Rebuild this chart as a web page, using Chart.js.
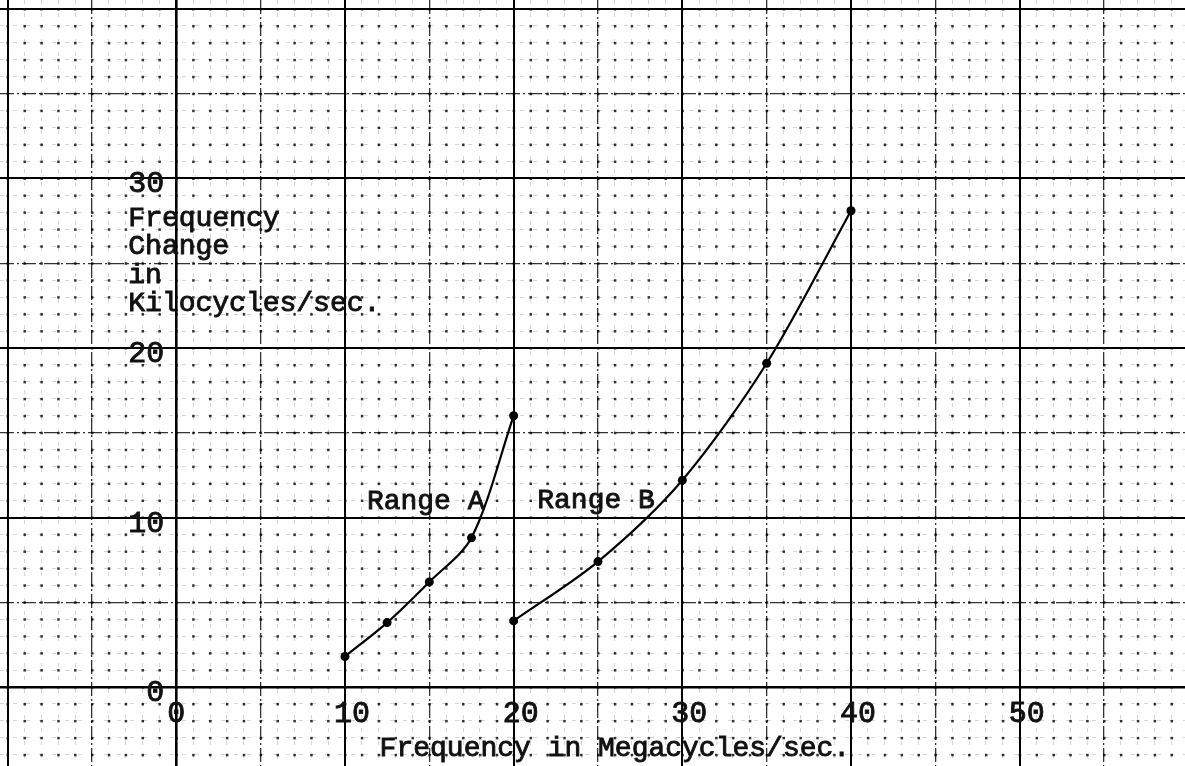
<!DOCTYPE html>
<html>
<head>
<meta charset="utf-8">
<title>Frequency change</title>
<script src="https://cdn.jsdelivr.net/npm/chart.js@4.4.1/dist/chart.umd.min.js"></script>
<style>
  html, body { margin:0; padding:0; background:#fff; }
  #wrap { width:1185px; height:766px; }
</style>
</head>
<body>
<div id="wrap"><canvas id="freqChart" width="1185" height="766"></canvas></div>
<script>
// readings, MHz vs kc/s
const rangeAFreq   = [10, 12.5, 15, 17.5, 20];
const rangeAChange = [1.8, 3.8, 6.2, 8.8, 16.0];
const rangeBFreq   = [20, 25, 30, 35, 40];
const rangeBChange = [3.9, 7.4, 12.2, 19.1, 28.1];

const seriesNames = ['Range A', 'Range B'];
const xTickLabels = [0, 10, 20, 30, 40, 50];
const yTickLabels = [0, 10, 20, 30];
const xTitle = 'Frequency in Megacycles/sec.';
const yTitle = ['Frequency', 'Change', 'in', 'Kilocycles/sec.'];

const TYPE_FONT = '"Liberation Mono", "Courier New", monospace';

(function(){
  const el = document.getElementById('freqChart');
  if(!el || !window.Chart) return;

  // one tick per unit so every paper line gets drawn
  function unitTicks(scale){
    const ticks = [];
    for(let v = Math.ceil(scale.min); v <= Math.floor(scale.max); v++) ticks.push({ value: v });
    scale.ticks = ticks;
  }
  function gridColor(c){
    const v = c.tick ? c.tick.value : 1;
    if(v % 10 === 0) return '#000';
    if(v % 5 === 0) return 'rgba(0,0,0,0.8)';
    return 'rgba(0,0,0,0.16)';
  }
  function gridWidth(c){
    const v = c.tick ? c.tick.value : 1;
    if(v === 0) return 2.6;
    if(v % 10 === 0) return 2;
    if(v % 5 === 0) return 1.3;
    return 1;
  }
  function gridDash(c){
    const v = c.tick ? c.tick.value : 1;
    if(v % 10 === 0) return [];
    if(v % 5 === 0) return [14, 3, 2, 3];
    return [4, 9];
  }

  const paperAxis = (min, max) => ({
    type: 'linear',
    min, max,
    afterBuildTicks: unitTicks,
    ticks: { display: false },
    grid: { color: gridColor, lineWidth: gridWidth, drawTicks: false },
    border: { display: false, dash: gridDash }
  });

  // dots at every unit crossing of the graph paper
  const paperDots = {
    id: 'paperDots',
    beforeDatasetsDraw(c){
      const {ctx, scales: {x, y}} = c;
      ctx.save();
      ctx.fillStyle = 'rgba(0,0,0,0.8)';
      x.ticks.forEach(tx => {
        const px = x.getPixelForValue(tx.value);
        y.ticks.forEach(ty => {
          const py = y.getPixelForValue(ty.value);
          ctx.fillRect(px - 1, py - 1, 2.5, 2.5);
        });
      });
      ctx.restore();
    }
  };

  // typewriter look: fill plus a thin stroke to thicken the strokes a bit
  function typeText(ctx, str, px, py){
    ctx.fillText(str, px, py);
    ctx.strokeText(str, px, py);
  }

  // typed labels: axis numbers, titles and the range names
  const paperText = {
    id: 'paperText',
    afterDatasetsDraw(c){
      const {ctx, scales: {x, y}} = c;
      const x0 = x.getPixelForValue(0);
      const y0 = y.getPixelForValue(0);
      ctx.save();
      ctx.fillStyle = '#111';
      ctx.strokeStyle = '#111';
      ctx.lineWidth = 0.9;
      ctx.textBaseline = 'alphabetic';

      ctx.font = '30px ' + TYPE_FONT;
      ctx.textAlign = 'center';
      xTickLabels.forEach(v => {
        typeText(ctx, String(v), x.getPixelForValue(v) + (v === 0 ? 0 : 7), y0 + 35);
      });
      ctx.textAlign = 'right';
      yTickLabels.forEach(v => {
        typeText(ctx, String(v), x0 - 12, y.getPixelForValue(v) + 14);
      });

      ctx.font = '28px ' + TYPE_FONT;
      ctx.textAlign = 'center';
      typeText(ctx, xTitle, x.getPixelForValue(26), y0 + 69);

      ctx.textAlign = 'left';
      const top = y.getPixelForValue(30);
      [48, 76, 105, 133].forEach((dy, i) => typeText(ctx, yTitle[i], x0 - 48, top + dy));

      typeText(ctx, seriesNames[0], x.getPixelForValue(11.3), y.getPixelForValue(10.5));
      typeText(ctx, seriesNames[1], x.getPixelForValue(21.4), y.getPixelForValue(10.55));
      ctx.restore();
    }
  };

  const curve = (name, xs, ys) => ({
    label: name,
    data: xs.map((f, i) => ({ x: f, y: ys[i] })),
    borderColor: '#000',
    backgroundColor: '#000',
    borderWidth: 2.2,
    pointRadius: 4.5,
    pointHoverRadius: 4.5,
    pointBorderWidth: 0,
    tension: 0.3,
    fill: false
  });

  new Chart(el, {
    type: 'line',
    data: {
      datasets: [
        curve(seriesNames[0], rangeAFreq, rangeAChange),
        curve(seriesNames[1], rangeBFreq, rangeBChange)
      ]
    },
    options: {
      responsive: false,
      animation: false,
      layout: { padding: 0, autoPadding: false },
      scales: {
        x: paperAxis(-10.45, 59.8),
        y: paperAxis(-4.66, 40.53)
      },
      plugins: {
        legend: { display: false },
        tooltip: { enabled: false }
      }
    },
    plugins: [paperDots, paperText]
  });
})();
</script>
</body>
</html>
